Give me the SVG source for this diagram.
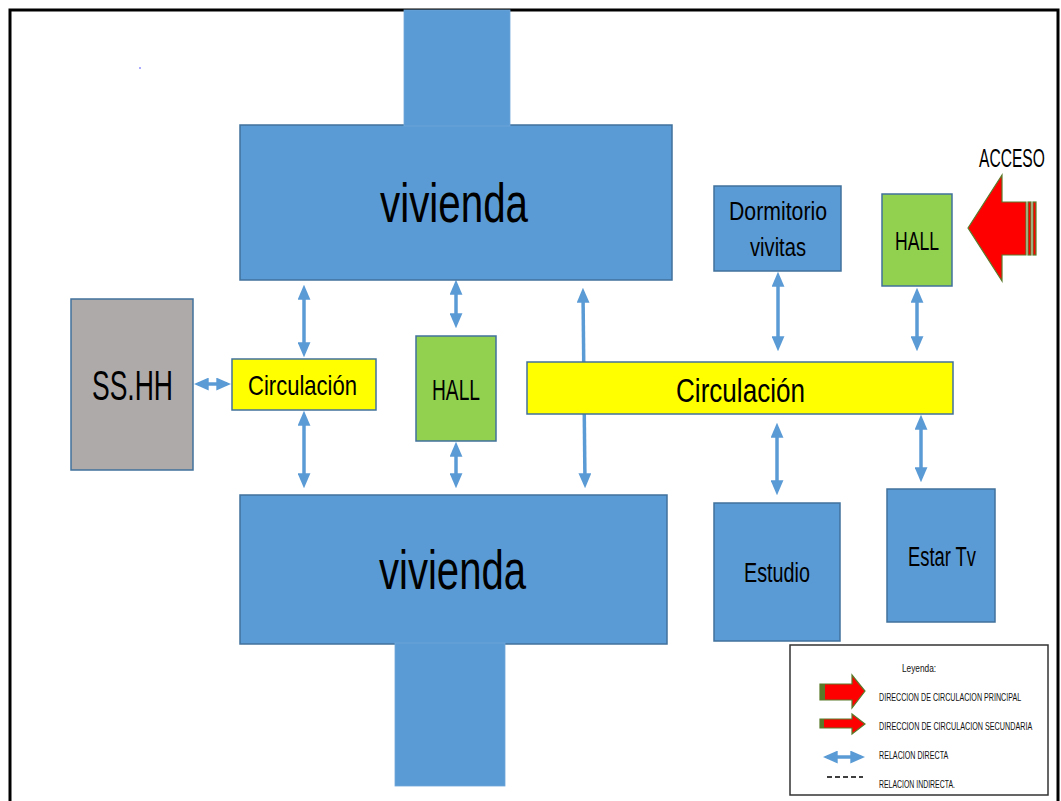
<svg xmlns="http://www.w3.org/2000/svg" width="1061" height="801" viewBox="0 0 1061 801">
<defs>
<style>
.t{font-family:"Liberation Sans",Arial,sans-serif;fill:#000}
.blue{fill:#5b9bd5;stroke:#41719c;stroke-width:1.5}
.stem{fill:#5b9bd5;stroke:#6fa6da;stroke-width:0.8}
.yel{fill:#ffff00;stroke:#41719c;stroke-width:1.5}
.grn{fill:#92d050;stroke:#41719c;stroke-width:1.5}
.gry{fill:#aeaaaa;stroke:#41719c;stroke-width:1.5}
.con{stroke:#5b9bd5;stroke-width:3.5;fill:none;marker-start:url(#ah);marker-end:url(#ah)}
.red{fill:#ff0000;stroke:#5a7a2a;stroke-width:1.2}
.lg{font-size:10.5px;fill:#111}
</style>
<marker id="ah" viewBox="0 0 14 12" refX="10" refY="6" markerWidth="15" markerHeight="13" markerUnits="userSpaceOnUse" orient="auto-start-reverse">
<path d="M0,0 L14,6 L0,12 z" fill="#5b9bd5"/>
</marker>
</defs>
<rect x="0" y="0" width="1061" height="801" fill="#fff"/>
<rect x="10" y="10" width="1048" height="820" fill="none" stroke="#000" stroke-width="3"/>
<circle cx="140" cy="68" r="0.8" fill="#4040ff"/>

<g id="connectors">
<line class="con" x1="198" y1="384" x2="227" y2="384"/>
<line class="con" x1="304" y1="289" x2="304" y2="353"/>
<line class="con" x1="304" y1="415" x2="304" y2="484"/>
<line class="con" x1="456" y1="284" x2="456" y2="324"/>
<line class="con" x1="456" y1="446" x2="456" y2="484"/>
<line class="con" x1="583" y1="292" x2="585" y2="484"/>
<line class="con" x1="778" y1="276" x2="778" y2="347"/>
<line class="con" x1="917" y1="292" x2="917" y2="347"/>
<line class="con" x1="777" y1="427" x2="777" y2="491"/>
<line class="con" x1="921" y1="419" x2="921" y2="478"/>
</g>

<g id="vivienda-top">
<rect class="blue" x="240" y="125" width="432" height="155"/>
<rect class="stem" x="404" y="10" width="106" height="116"/>
<text class="t" x="380" y="222" font-size="55" textLength="148" lengthAdjust="spacingAndGlyphs">vivienda</text>
</g>

<g id="vivienda-bottom">
<rect class="blue" x="240" y="495" width="427" height="149"/>
<rect class="stem" x="395" y="643" width="110" height="143"/>
<text class="t" x="379" y="589" font-size="55" textLength="147" lengthAdjust="spacingAndGlyphs">vivienda</text>
</g>

<g id="sshh">
<rect class="gry" x="71" y="299" width="122" height="171"/>
<text class="t" x="92" y="400" font-size="42" textLength="81" lengthAdjust="spacingAndGlyphs">SS.HH</text>
</g>

<g id="circulacion-left">
<rect class="yel" x="232" y="359" width="144" height="51"/>
<text class="t" x="248" y="395" font-size="28" textLength="109" lengthAdjust="spacingAndGlyphs">Circulación</text>
</g>

<g id="hall-middle">
<rect class="grn" x="416" y="336" width="80" height="105"/>
<text class="t" x="432" y="400" font-size="30" textLength="48" lengthAdjust="spacingAndGlyphs">HALL</text>
</g>

<g id="circulacion-main">
<rect class="yel" x="527" y="362" width="426" height="52"/>
<text class="t" x="676" y="402" font-size="33" textLength="129" lengthAdjust="spacingAndGlyphs">Circulación</text>
</g>

<g id="dormitorio">
<rect class="blue" x="714" y="186" width="127" height="85"/>
<text class="t" x="729" y="220" font-size="25" textLength="98" lengthAdjust="spacingAndGlyphs">Dormitorio</text>
<text class="t" x="750" y="256" font-size="25" textLength="56" lengthAdjust="spacingAndGlyphs">vivitas</text>
</g>

<g id="hall-right">
<rect class="grn" x="882" y="194" width="70" height="92"/>
<text class="t" x="895" y="250" font-size="25" textLength="44" lengthAdjust="spacingAndGlyphs">HALL</text>
</g>

<g id="estudio">
<rect class="blue" x="714" y="503" width="126" height="138"/>
<text class="t" x="744" y="582" font-size="27" textLength="66" lengthAdjust="spacingAndGlyphs">Estudio</text>
</g>

<g id="estar">
<rect class="blue" x="887" y="489" width="108" height="133"/>
<text class="t" x="908" y="566" font-size="27" textLength="68" lengthAdjust="spacingAndGlyphs">Estar Tv</text>
</g>

<g id="acceso">
<text class="t" transform="translate(979,167) scale(0.6,1)" font-size="26">ACCESO</text>
<polygon class="red" points="968,228 1002,175 1002,202 1026,202 1026,255 1002,255 1002,281"/>
<rect class="red" x="1028" y="202" width="3" height="53"/>
<rect class="red" x="1033" y="202" width="3" height="53"/>
</g>

<g id="legend">
<rect x="790" y="645" width="258" height="150" fill="#fff" stroke="#333" stroke-width="1.5"/>
<text class="t lg" transform="translate(902,672) scale(0.79,1)">Leyenda:</text>
<polygon class="red" points="820,684 852,684 852,675 865,691 852,708 852,700 820,700"/>
<rect x="820" y="684" width="5" height="16" fill="#5a7a2a"/>
<text class="t lg" transform="translate(879,701) scale(0.68,1)">DIRECCION DE CIRCULACION PRINCIPAL</text>
<polygon class="red" points="820,719 852,719 852,714 865,724 852,734 852,728 820,728"/>
<rect x="820" y="719" width="4" height="9" fill="#5a7a2a"/>
<text class="t lg" transform="translate(879,730) scale(0.686,1)">DIRECCION DE CIRCULACION SECUNDARIA</text>
<line class="con" x1="827" y1="757" x2="861" y2="757"/>
<text class="t lg" transform="translate(879,759) scale(0.68,1)">RELACION DIRECTA</text>
<line x1="827" y1="777" x2="863" y2="777" stroke="#000" stroke-width="1.5" stroke-dasharray="5,3"/>
<text class="t lg" transform="translate(879,788) scale(0.66,1)">RELACION INDIRECTA.</text>
</g>
</svg>
